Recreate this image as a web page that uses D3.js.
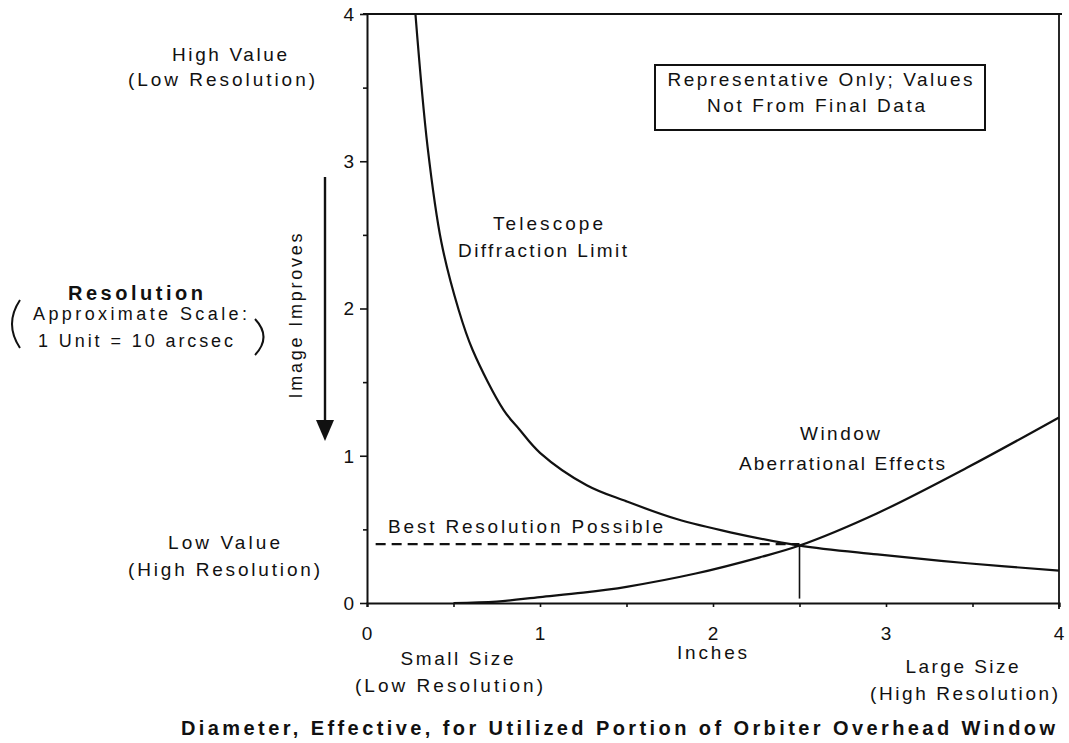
<!DOCTYPE html>
<html>
<head>
<meta charset="utf-8">
<script src="https://cdn.jsdelivr.net/npm/d3@7"></script>
<style>
  body { margin: 0; background: #fff; }
  svg { display: block; }
  text { font-family: "Liberation Sans", Arial, sans-serif; fill: #111; }
  .axis path, .axis line { stroke: #111; }
</style>
</head>
<body>
<svg width="1069" height="743"></svg>
<script>
// values (inches vs resolution units)
var telescopeInches = [0.28, 0.35, 0.43, 0.53, 0.61, 0.79, 0.88, 1.00, 1.27, 1.50, 1.79, 2.10, 2.50, 2.95, 3.47, 4.00]
var telescopeRes    = [4.00, 3.10, 2.45, 1.99, 1.72, 1.31, 1.18, 1.02, 0.80, 0.69, 0.57, 0.48, 0.39, 0.33, 0.27, 0.22]

var windowInches = [0.50, 0.75, 1.00, 1.25, 1.50, 1.90, 2.27, 2.50, 2.95, 3.47, 4.00]
var windowRes    = [0.00, 0.01, 0.04, 0.07, 0.11, 0.20, 0.31, 0.39, 0.61, 0.92, 1.26]

var bestResolution = 0.40
var bestInches = 2.5
var bestStart = 0.05

var xTickValues = [0, 0.5, 1, 1.5, 2, 2.5, 3, 3.5, 4]
var yTickValues = [0, 0.5, 1, 1.5, 2, 2.5, 3, 3.5, 4]
var xTickLabels = ["0", "1", "2", "3", "4"]
var yTickLabels = ["0", "1", "2", "3", "4"]

var svg = d3.select("svg")

var x = d3.scaleLinear().domain([0, 4]).range([367, 1059])
var y = d3.scaleLinear().domain([0, 4]).range([603, 14])

var ink = "#111"

// frame (top and right)
svg.append("line")
    .attr("x1", x(0) - 4).attr("x2", x(4) + 3)
    .attr("y1", y(4)).attr("y2", y(4))
    .attr("stroke", ink).attr("stroke-width", 2.2)
svg.append("line")
    .attr("x1", x(4)).attr("x2", x(4))
    .attr("y1", y(4)).attr("y2", y(0) + 6)
    .attr("stroke", ink).attr("stroke-width", 1.8)

// y axis
var yAxis = d3.axisLeft(y)
    .tickValues(yTickValues)
    .tickSizeOuter(0)
    .tickFormat("")
var gy = svg.append("g").attr("class", "axis")
    .attr("transform", "translate(" + x(0) + ",0)")
    .call(yAxis)
gy.select(".domain").attr("stroke-width", 2)
gy.selectAll(".tick line")
    .attr("stroke-width", 1.6)
    .attr("x2", function(d) { return d % 1 === 0 ? -7 : -4 })

svg.append("g").selectAll("text")
    .data(yTickLabels)
    .enter()
    .append("text")
    .attr("x", x(0) - 13)
    .attr("y", function(d) { return y(+d) })
    .attr("dy", "0.36em")
    .attr("text-anchor", "end")
    .style("font-size", "19px")
    .text(function(d) { return d })

// x axis
var xAxis = d3.axisBottom(x)
    .tickValues(xTickValues)
    .tickSizeOuter(0)
    .tickSize(4)
    .tickFormat("")
var gx = svg.append("g").attr("class", "axis")
    .attr("transform", "translate(0," + y(0) + ")")
    .call(xAxis)
gx.select(".domain").attr("stroke-width", 2.2)
gx.selectAll(".tick line").attr("stroke-width", 1.6)

svg.append("g").selectAll("text")
    .data(xTickLabels)
    .enter()
    .append("text")
    .attr("x", function(d) { return x(+d) })
    .attr("y", 640)
    .attr("text-anchor", "middle")
    .style("font-size", "19px")
    .text(function(d) { return d })

// curves
var line = d3.line()
    .x(function(d) { return x(d[0]) })
    .y(function(d) { return y(d[1]) })
    .curve(d3.curveCatmullRom.alpha(0.5))

var telescope = d3.zip(telescopeInches, telescopeRes)
var windowEff = d3.zip(windowInches, windowRes)

svg.append("path")
    .datum(telescope)
    .attr("d", line)
    .attr("fill", "none")
    .attr("stroke", ink)
    .attr("stroke-width", 2.2)

svg.append("path")
    .datum(windowEff)
    .attr("d", line)
    .attr("fill", "none")
    .attr("stroke", ink)
    .attr("stroke-width", 2.2)

// best resolution dashed line and drop line
svg.append("line")
    .attr("x1", x(bestStart)).attr("x2", x(bestInches))
    .attr("y1", y(bestResolution)).attr("y2", y(bestResolution))
    .attr("stroke", ink).attr("stroke-width", 2.2)
    .attr("stroke-dasharray", "10,6")

svg.append("line")
    .attr("x1", x(bestInches)).attr("x2", x(bestInches))
    .attr("y1", y(0.39)).attr("y2", y(0.03))
    .attr("stroke", ink).attr("stroke-width", 1.6)

// annotation box
svg.append("rect")
    .attr("x", 655).attr("y", 65)
    .attr("width", 330).attr("height", 65)
    .attr("fill", "none")
    .attr("stroke", ink).attr("stroke-width", 2)

// text labels: [text, x, y, width, size, weight, anchor]
var labels = [
    ["High Value", 229.5, 61, 115, 19, "normal", "middle"],
    ["(Low Resolution)", 221.5, 86, 187, 19, "normal", "middle"],
    ["Resolution", 135.5, 300, 135, 20, "bold", "middle"],
    ["Approximate Scale:", 140, 320, 214, 18, "normal", "middle"],
    ["1 Unit = 10 arcsec", 135.5, 347, 195, 18, "normal", "middle"],
    ["Low Value", 224, 549, 112, 19, "normal", "middle"],
    ["(High Resolution)", 224, 576, 192, 19, "normal", "middle"],
    ["Telescope", 548, 230, 110, 19, "normal", "middle"],
    ["Diffraction Limit", 542.5, 257, 169, 19, "normal", "middle"],
    ["Best Resolution Possible", 388, 533, 275, 19, "normal", "start"],
    ["Window", 840, 440, 80, 19, "normal", "middle"],
    ["Aberrational Effects", 842, 470, 206, 19, "normal", "middle"],
    ["Representative Only; Values", 820, 86, 305, 19, "normal", "middle"],
    ["Not From Final Data", 816, 112, 218, 19, "normal", "middle"],
    ["Small Size", 457, 665, 113, 19, "normal", "middle"],
    ["(Low Resolution)", 449, 692, 188, 19, "normal", "middle"],
    ["Inches", 712, 659, 70, 19, "normal", "middle"],
    ["Large Size", 962, 673, 113, 19, "normal", "middle"],
    ["(High Resolution)", 964, 700, 188, 19, "normal", "middle"],
    ["Diameter, Effective, for Utilized Portion of Orbiter Overhead Window", 181, 735, 874, 20, "bold", "start"]
]

svg.append("g").selectAll("text")
    .data(labels)
    .enter()
    .append("text")
    .attr("x", function(d) { return d[1] })
    .attr("y", function(d) { return d[2] })
    .attr("textLength", function(d) { return d[3] })
    .attr("lengthAdjust", "spacing")
    .attr("text-anchor", function(d) { return d[6] })
    .style("font-size", function(d) { return d[4] + "px" })
    .style("font-weight", function(d) { return d[5] })
    .text(function(d) { return d[0] })

// brackets round the scale note
svg.append("path")
    .attr("d", "M20,300 Q4,324 20,348")
    .attr("fill", "none").attr("stroke", ink).attr("stroke-width", 2)
svg.append("path")
    .attr("d", "M255,319 Q272,337 255,355")
    .attr("fill", "none").attr("stroke", ink).attr("stroke-width", 2)

// "Image Improves" arrow
svg.append("text")
    .attr("transform", "translate(302,316) rotate(-90)")
    .attr("text-anchor", "middle")
    .attr("textLength", 165)
    .attr("lengthAdjust", "spacing")
    .style("font-size", "18px")
    .text("Image Improves")

svg.append("line")
    .attr("x1", 325).attr("x2", 325)
    .attr("y1", 177).attr("y2", 428)
    .attr("stroke", ink).attr("stroke-width", 2.4)
svg.append("path")
    .attr("d", "M316,420 L334,420 L325,441 Z")
    .attr("fill", ink)
</script>
</body>
</html>
